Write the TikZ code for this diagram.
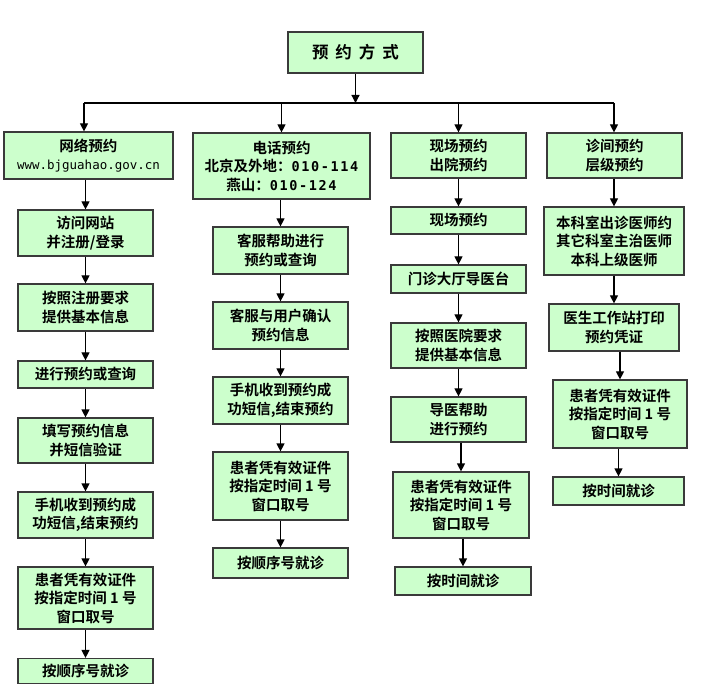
\documentclass[tikz,border=0pt]{standalone}
\usepackage{fontspec}
\usepackage{xcolor}
\usepackage{tikz}
\usetikzlibrary{arrows, arrows.meta}
\usetikzlibrary{positioning}
\usetikzlibrary{calc}
\setmainfont{Noto Sans CJK SC}[BoldFont={Noto Sans CJK SC Bold}]
\newfontfamily\urlfont{DejaVu Sans Mono}
\newfontfamily\numfont[LetterSpace=12]{DejaVu Sans Mono}
\definecolor{boxgreen}{HTML}{CCFFCC}
\definecolor{edgegray}{HTML}{3A3A3A}

\begin{document}
\begin{tikzpicture}[x=1pt, y=-1pt,
	every node/.style={fill=boxgreen, draw=edgegray, line width=1.2pt, rectangle, inner sep=0pt, align=center, font=\bfseries\fontsize{14.5}{18.5}\selectfont},
	arr/.style={line width=1.2pt, -{Triangle[length=8pt, width=8pt]}}]
	\useasboundingbox (0,0) rectangle (705,695);

	% title and bus line
	\node[minimum width=135pt, minimum height=41pt, font=\bfseries\fontsize{16.5}{18}\selectfont] (mode) at (355.5,52.5) {预\hspace{7pt}约\hspace{7pt}方\hspace{7pt}式};
	\coordinate (busL) at (84,103);
	\coordinate (busR) at (614,103);

	% column heads
	\node[minimum width=169pt, minimum height=47pt] (net) at (88.5,155.5) {网络预约\\{\urlfont\mdseries\fontsize{12.5}{18.5}\selectfont www.bjguahao.gov.cn}};
	\node[minimum width=177pt, minimum height=66pt] (tel) at (281.5,166) {电话预约\\北京及外地：{\numfont\fontsize{13.5}{18.5}\selectfont 010-114}\\燕山：{\numfont\fontsize{13.5}{18.5}\selectfont 010-124}};
	\node[minimum width=135pt, minimum height=45pt] (site) at (458.5,155.5) {现场预约\\出院预约};
	\node[minimum width=135pt, minimum height=45pt] (clinic) at (614.5,155.5) {诊间预约\\层级预约};

	% columns
	\foreach \x/\y/\w/\h/\txt [count=\i] in {85.5/233/135/46/{访问网站\\并注册/登录}, 85.5/307.5/135/47/{按照注册要求\\提供基本信息}, 85.5/374.5/135/27/{进行预约或查询}, 85.5/440.5/135/45/{填写预约信息\\并短信验证}, 85.5/515/135/46/{手机收到预约成\\功短信,结束预约}, 85.5/598/135/62/{患者凭有效证件\\按指定时间 1 号\\窗口取号}, 85.5/671/135/25/{按顺序号就诊}}
	{
		\node[minimum width=\w pt, minimum height=\h pt] (w\i) at (\x,\y) {\txt};
	}
	\foreach \x/\y/\w/\h/\txt [count=\i] in {280.5/250.5/135/47/{客服帮助进行\\预约或查询}, 280.5/325.5/135/47/{客服与用户确认\\预约信息}, 280.5/400.5/135/47/{手机收到预约成\\功短信,结束预约}, 280.5/486/135/68/{患者凭有效证件\\按指定时间 1 号\\窗口取号}, 280.5/563/135/30/{按顺序号就诊}}
	{
		\node[minimum width=\w pt, minimum height=\h pt] (t\i) at (\x,\y) {\txt};
	}
	\foreach \x/\y/\w/\h/\txt [count=\i] in {458.5/220.5/135/27/{现场预约}, 458.5/279/135/28/{门诊大厅导医台}, 458.5/345.5/135/45/{按照医院要求\\提供基本信息}, 458.5/419.5/135/45/{导医帮助\\进行预约}, 461/505/136/66/{患者凭有效证件\\按指定时间 1 号\\窗口取号}, 463/581/136/28/{按时间就诊}}
	{
		\node[minimum width=\w pt, minimum height=\h pt] (s\i) at (\x,\y) {\txt};
	}
	\foreach \x/\y/\w/\h/\txt [count=\i] in {614/241/140/68/{本科室出诊医师约\\其它科室主治医师\\本科上级医师}, 614/327.5/130/47/{医生工作站打印\\预约凭证}, 620/414/134/68/{患者凭有效证件\\按指定时间 1 号\\窗口取号}, 618.5/491/131/28/{按时间就诊}}
	{
		\node[minimum width=\w pt, minimum height=\h pt] (z\i) at (\x,\y) {\txt};
	}

	% connectors
	\draw[arr] (mode.south) -- (mode.south |- busL);
	\draw[line width=1.2pt] (busL) -- (busR);
	\draw[arr] (busL) -- (busL |- net.north);
	\draw[arr] (tel.north |- busL) -- (tel.north);
	\draw[arr] (site.north |- busL) -- (site.north);
	\draw[arr] (busR) -- (busR |- clinic.north);
	\draw[arr] (w1.north |- net.south) -- (w1.north);
	\draw[arr] (t1.north |- tel.south) -- (t1.north);
	\draw[arr] (s1.north |- site.south) -- (s1.north);
	\draw[arr] (z1.north |- clinic.south) -- (z1.north);
	\foreach \i [evaluate=\i as \j using int(\i+1)] in {1,...,6}
		\draw[arr] (w\i.south -| w\j.north) -- (w\j.north);
	\foreach \i [evaluate=\i as \j using int(\i+1)] in {1,...,4}
		\draw[arr] (t\i.south -| t\j.north) -- (t\j.north);
	\foreach \i [evaluate=\i as \j using int(\i+1)] in {1,...,5}
		\draw[arr] (s\i.south -| s\j.north) -- (s\j.north);
	\foreach \i [evaluate=\i as \j using int(\i+1)] in {1,...,3}
		\draw[arr] (z\i.south -| z\j.north) -- (z\j.north);
\end{tikzpicture}
\end{document}
